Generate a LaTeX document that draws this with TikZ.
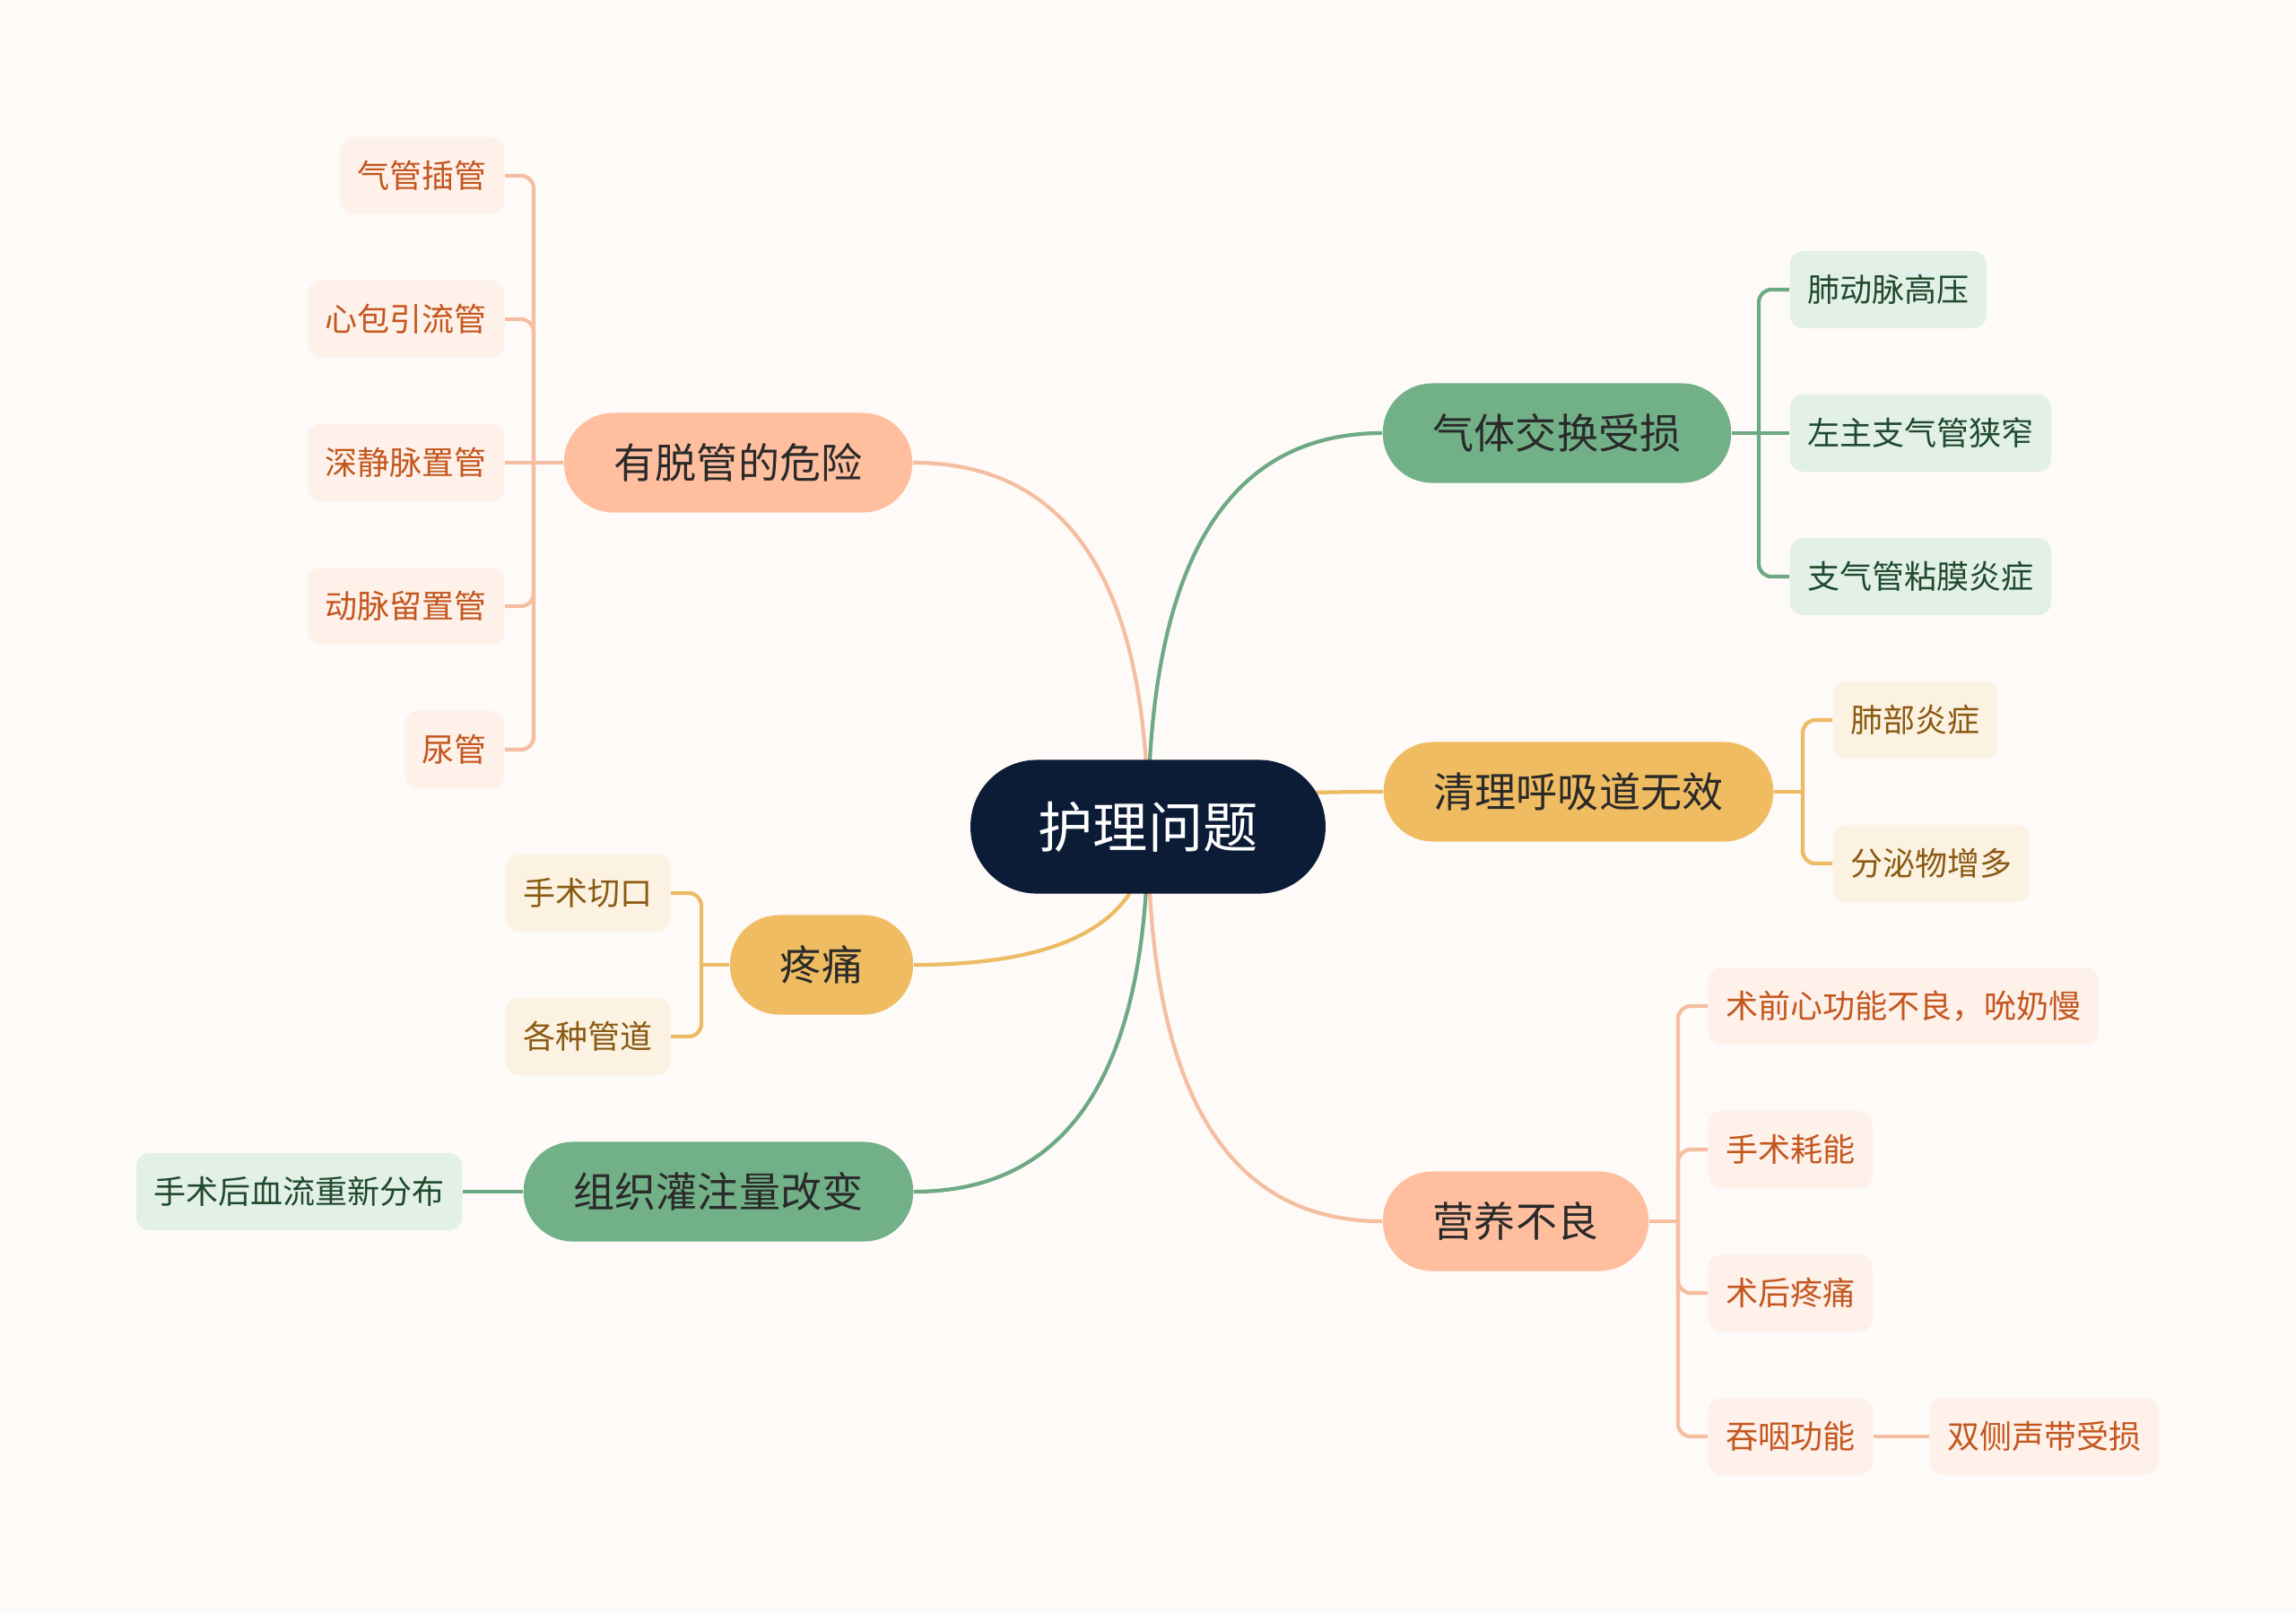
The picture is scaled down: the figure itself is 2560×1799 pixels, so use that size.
\documentclass[tikz,border=0pt]{standalone}
\usepackage{fontspec}
\newfontfamily\cjk{Noto Sans CJK SC}
\usepackage{tikz}
\usetikzlibrary{calc}

\definecolor{paper}{HTML}{FEFAF8}
\definecolor{navy}{HTML}{0C1C37}
\definecolor{peach}{HTML}{FFBF9E}
\definecolor{sage}{HTML}{72B088}
\definecolor{amber}{HTML}{F0BC62}
\definecolor{peachline}{HTML}{F6BEA0}
\definecolor{sageline}{HTML}{6DAA84}
\definecolor{amberline}{HTML}{EDBB64}
\definecolor{peachpale}{HTML}{FDF1EA}
\definecolor{sagepale}{HTML}{E3F0E7}
\definecolor{amberpale}{HTML}{FCF2E2}
\definecolor{peachtext}{HTML}{C4561E}
\definecolor{sagetext}{HTML}{1F4A2D}
\definecolor{ambertext}{HTML}{8A5A12}
\definecolor{topictext}{HTML}{2A2A2A}

\pgfdeclarelayer{paperlayer}
\pgfdeclarelayer{linklayer}
\pgfsetlayers{paperlayer,linklayer,main}

\tikzset{
  hub/.style={fill=navy, text=white, rounded corners=0.74cm, inner xsep=0.755cm, inner ysep=0pt,
    minimum height=1.49cm, font=\cjk\fontsize{17.4}{20}\selectfont},
  topic/.style={rounded corners=0.55cm, inner xsep=0.56cm, inner ysep=0pt, minimum height=1.11cm,
    text=topictext, font=\cjk\fontsize{13.1}{16}\selectfont},
  peachtopic/.style={topic, fill=peach},
  sagetopic/.style={topic, fill=sage},
  ambertopic/.style={topic, fill=amber},
  leaf/.style={rounded corners=0.15cm, inner xsep=0.195cm, inner ysep=0pt, minimum height=0.86cm,
    font=\cjk\fontsize{10.25}{12}\selectfont},
  peachleaf/.style={leaf, fill=peachpale, text=peachtext},
  sageleaf/.style={leaf, fill=sagepale, text=sagetext},
  amberleaf/.style={leaf, fill=amberpale, text=ambertext},
  link/.style={line width=1.2pt, rounded corners=4pt},
  branch/.style={to path={.. controls ($(\tikztostart)!0.667!(\tikztostart |- \tikztotarget)$)
    and ($(\tikztotarget)!0.667!(\tikztostart |- \tikztotarget)$) .. (\tikztotarget)}}
}

\begin{document}
\begin{tikzpicture}[x=0.01cm,y=-0.01cm]
  \begin{pgfonlayer}{paperlayer}
    \fill[paper] (0,0) rectangle (2560,1799);
  \end{pgfonlayer}
  \useasboundingbox (0,0) rectangle (2560,1799);

  % centre and topics
  \node[hub] (root) at (1280,922) {护理问题};
  \node[peachtopic] (tuo) at (823,516) {有脱管的危险};
  \node[sagetopic] (qiti) at (1736,483) {气体交换受损};
  \node[ambertopic] (qingli) at (1760,883) {清理呼吸道无效};
  \node[ambertopic] (teng) at (916,1076) {疼痛};
  \node[sagetopic] (zuzhi) at (801,1329) {组织灌注量改变};
  \node[peachtopic] (ying) at (1690,1362) {营养不良};

  % leaves
  \node[peachleaf, anchor=east] (tuo1) at (563,196) {气管插管};
  \node[peachleaf, anchor=east] (tuo2) at (563,356) {心包引流管};
  \node[peachleaf, anchor=east] (tuo3) at (563,516) {深静脉置管};
  \node[peachleaf, anchor=east] (tuo4) at (563,676) {动脉留置管};
  \node[peachleaf, anchor=east] (tuo5) at (563,836) {尿管};

  \node[sageleaf, anchor=west] (qiti1) at (1995,323) {肺动脉高压};
  \node[sageleaf, anchor=west] (qiti2) at (1995,483) {左主支气管狭窄};
  \node[sageleaf, anchor=west] (qiti3) at (1995,643) {支气管粘膜炎症};

  \node[amberleaf, anchor=west] (qingli1) at (2043,803) {肺部炎症};
  \node[amberleaf, anchor=west] (qingli2) at (2043,963) {分泌物增多};

  \node[amberleaf, anchor=east] (teng1) at (748,996) {手术切口};
  \node[amberleaf, anchor=east] (teng2) at (748,1156) {各种管道};

  \node[sageleaf, anchor=east] (zuzhi1) at (516,1329) {手术后血流重新分布};

  \node[peachleaf, anchor=west] (ying1) at (1904,1122) {术前心功能不良，吮奶慢};
  \node[peachleaf, anchor=west] (ying2) at (1904,1282) {手术耗能};
  \node[peachleaf, anchor=west] (ying3) at (1904,1442) {术后疼痛};
  \node[peachleaf, anchor=west] (ying4) at (1904,1602) {吞咽功能};
  \node[peachleaf, anchor=west] (ying41) at (2151,1602) {双侧声带受损};

  \coordinate (tuoj) at (595,516);
  \coordinate (qitij) at (1961,483);
  \coordinate (qinglij) at (2010,883);
  \coordinate (tengj) at (782,1076);
  \coordinate (yingj) at (1871,1362);

  \begin{pgfonlayer}{linklayer}
    % centre to topics
    \draw[link, peachline, branch] (root.center) to (tuo.east);
    \draw[link, sageline, branch] (root.center) to (qiti.west);
    \draw[link, amberline, branch] (root.center) to (qingli.west);
    \draw[link, amberline, branch] (root.center) to (teng.east);
    \draw[link, sageline, branch] (root.center) to (zuzhi.east);
    \draw[link, peachline, branch] (root.center) to (ying.west);

    % topics to leaves
    \draw[link, peachline] (tuo.west) -- (tuoj);
    \draw[link, peachline] (tuo1.east) -| (tuoj);
    \draw[link, peachline] (tuo2.east) -| (tuoj);
    \draw[link, peachline] (tuo3.east) -- (tuoj);
    \draw[link, peachline] (tuo4.east) -| (tuoj);
    \draw[link, peachline] (tuo5.east) -| (tuoj);

    \draw[link, sageline] (qiti.east) -- (qitij);
    \draw[link, sageline] (qiti1.west) -| (qitij);
    \draw[link, sageline] (qiti2.west) -- (qitij);
    \draw[link, sageline] (qiti3.west) -| (qitij);

    \draw[link, amberline] (qingli.east) -- (qinglij);
    \draw[link, amberline] (qingli1.west) -| (qinglij);
    \draw[link, amberline] (qingli2.west) -| (qinglij);

    \draw[link, amberline] (teng.west) -- (tengj);
    \draw[link, amberline] (teng1.east) -| (tengj);
    \draw[link, amberline] (teng2.east) -| (tengj);

    \draw[link, sageline] (zuzhi.west) -- (zuzhi1.east);

    \draw[link, peachline] (ying.east) -- (yingj);
    \draw[link, peachline] (ying1.west) -| (yingj);
    \draw[link, peachline] (ying2.west) -| (yingj);
    \draw[link, peachline] (ying3.west) -| (yingj);
    \draw[link, peachline] (ying4.west) -| (yingj);
    \draw[link, peachline] (ying4.east) -- (ying41.west);
  \end{pgfonlayer}
\end{tikzpicture}
\end{document}
